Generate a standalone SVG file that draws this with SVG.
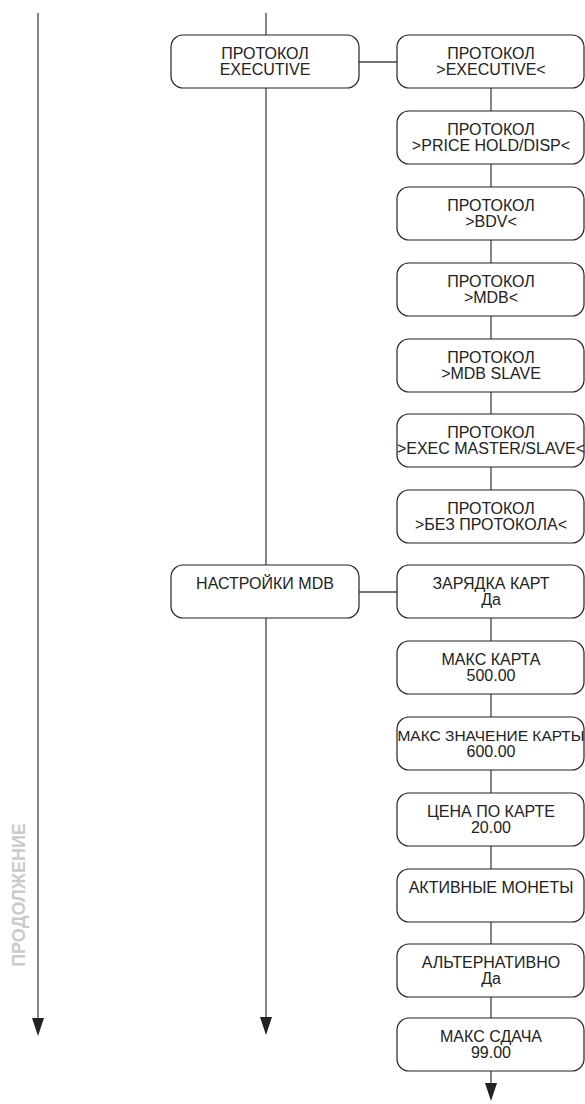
<svg xmlns="http://www.w3.org/2000/svg" width="585" height="1104" viewBox="0 0 585 1104">
<defs>
<style>
.n rect{fill:#fff;stroke:#222;stroke-width:1.2}
.n text{font-family:"Liberation Sans",Arial,sans-serif;font-size:16px;fill:#222;text-anchor:middle}
.c line{stroke:#444;stroke-width:1.3}
.c path{fill:#222}
.side{font-family:"Liberation Sans",Arial,sans-serif;font-size:18px;font-weight:bold;fill:#cacaca;text-anchor:middle}
</style>
</defs>
<rect width="585" height="1104" fill="#fff"/>
<g class="c" id="connectors">
<line x1="38" y1="13" x2="38" y2="1020"/>
<path d="M32,1018 L44,1018 L38,1036 Z"/>
<line x1="266" y1="13" x2="266" y2="35"/>
<line x1="266" y1="88" x2="266" y2="565"/>
<line x1="266" y1="618" x2="266" y2="1020"/>
<path d="M260,1017 L272,1017 L266,1035 Z"/>
<line x1="359" y1="62" x2="397" y2="62"/>
<line x1="359" y1="592" x2="397" y2="592"/>
<line x1="491" y1="88" x2="491" y2="111"/>
<line x1="491" y1="164" x2="491" y2="187"/>
<line x1="491" y1="240" x2="491" y2="263"/>
<line x1="491" y1="316" x2="491" y2="339"/>
<line x1="491" y1="392" x2="491" y2="414"/>
<line x1="491" y1="467" x2="491" y2="490"/>
<line x1="491" y1="618" x2="491" y2="641"/>
<line x1="491" y1="694" x2="491" y2="717"/>
<line x1="491" y1="770" x2="491" y2="793"/>
<line x1="491" y1="846" x2="491" y2="869"/>
<line x1="491" y1="922" x2="491" y2="944"/>
<line x1="491" y1="997" x2="491" y2="1018"/>
<line x1="491" y1="1071" x2="491" y2="1085"/>
<path d="M485,1083 L497,1083 L491,1101 Z"/>
</g>
<text class="side" transform="translate(25,895) rotate(-90)">ПРОДОЛЖЕНИЕ</text>
<g class="n" id="n-left1"><rect x="171" y="35" width="188" height="53" rx="12"/><text x="265" y="59">ПРОТОКОЛ</text><text x="265" y="75">EXECUTIVE</text></g>
<g class="n" id="n-left2"><rect x="171" y="565" width="188" height="53" rx="12"/><text x="265" y="589">НАСТРОЙКИ MDB</text></g>
<g class="n" id="n1"><rect x="397" y="35" width="187" height="53" rx="12"/><text x="491" y="59">ПРОТОКОЛ</text><text x="491" y="75">&gt;EXECUTIVE&lt;</text></g>
<g class="n" id="n2"><rect x="397" y="111" width="187" height="53" rx="12"/><text x="491" y="135">ПРОТОКОЛ</text><text x="491" y="151">&gt;PRICE HOLD/DISP&lt;</text></g>
<g class="n" id="n3"><rect x="397" y="187" width="187" height="53" rx="12"/><text x="491" y="211">ПРОТОКОЛ</text><text x="491" y="227">&gt;BDV&lt;</text></g>
<g class="n" id="n4"><rect x="397" y="263" width="187" height="53" rx="12"/><text x="491" y="287">ПРОТОКОЛ</text><text x="491" y="303">&gt;MDB&lt;</text></g>
<g class="n" id="n5"><rect x="397" y="339" width="187" height="53" rx="12"/><text x="491" y="363">ПРОТОКОЛ</text><text x="491" y="379">&gt;MDB SLAVE</text></g>
<g class="n" id="n6"><rect x="397" y="414" width="187" height="53" rx="12"/><text x="491" y="438">ПРОТОКОЛ</text><text x="491" y="454">&gt;EXEC MASTER/SLAVE&lt;</text></g>
<g class="n" id="n7"><rect x="397" y="490" width="187" height="53" rx="12"/><text x="491" y="514">ПРОТОКОЛ</text><text x="491" y="530">&gt;БЕЗ ПРОТОКОЛА&lt;</text></g>
<g class="n" id="n8"><rect x="397" y="565" width="187" height="53" rx="12"/><text x="491" y="589">ЗАРЯДКА КАРТ</text><text x="491" y="605">Да</text></g>
<g class="n" id="n9"><rect x="397" y="641" width="187" height="53" rx="12"/><text x="491" y="665">МАКС КАРТА</text><text x="491" y="681">500.00</text></g>
<g class="n" id="n10"><rect x="397" y="717" width="187" height="53" rx="12"/><text x="491" y="741" style="font-size:15.5px">МАКС ЗНАЧЕНИЕ КАРТЫ</text><text x="491" y="757">600.00</text></g>
<g class="n" id="n11"><rect x="397" y="793" width="187" height="53" rx="12"/><text x="491" y="817">ЦЕНА ПО КАРТЕ</text><text x="491" y="833">20.00</text></g>
<g class="n" id="n12"><rect x="397" y="869" width="187" height="53" rx="12"/><text x="491" y="893">АКТИВНЫЕ МОНЕТЫ</text></g>
<g class="n" id="n13"><rect x="397" y="944" width="187" height="53" rx="12"/><text x="491" y="968">АЛЬТЕРНАТИВНО</text><text x="491" y="984">Да</text></g>
<g class="n" id="n14"><rect x="397" y="1018" width="187" height="53" rx="12"/><text x="491" y="1042">МАКС СДАЧА</text><text x="491" y="1058">99.00</text></g>
</svg>
